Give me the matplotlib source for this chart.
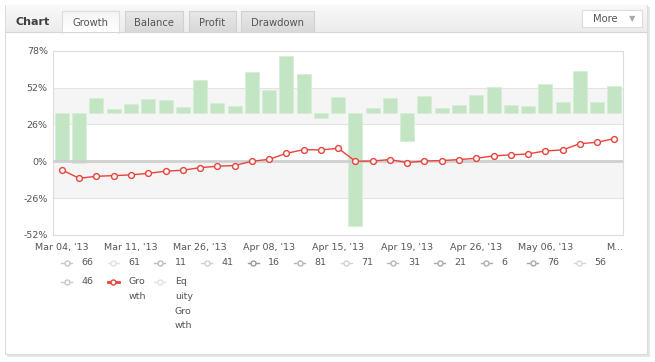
import numpy as np
import matplotlib
matplotlib.use("Agg")
import matplotlib.pyplot as plt
from matplotlib.patches import Rectangle
from matplotlib.lines import Line2D

# data (% growth per period, 33 periods)
growth = [-6.1, -12.0, -10.6, -10.1, -9.6, -8.5, -7.0, -6.3, -4.5, -3.5, -3.0,
          0.0, 1.4, 5.6, 8.2, 8.0, 9.2, 0.0, 0.2, 1.2, -0.9, 0.2, 0.5, 1.2,
          2.1, 3.8, 4.5, 5.2, 7.3, 8.0, 12.4, 13.4, 16.0]
bar_low = [0.0, -1.2, 34, 34, 34, 34, 34, 34, 34, 34, 34, 34, 34, 34, 34, 30.5,
           34, -46.0, 34, 34, 14.3, 34, 34, 34, 34, 34, 34, 34, 34, 34, 34, 34, 34]
bar_high = [34, 34, 44.4, 36.6, 40.4, 43.7, 43.4, 38.0, 57.5, 40.8, 39.2, 62.9,
            50.2, 74.2, 61.5, 34, 45.3, 34, 37.6, 44.4, 34, 45.8, 37.6, 39.7,
            46.5, 52.6, 39.4, 39.2, 54.7, 41.5, 63.4, 42.0, 53.3]
tick_pos = [0, 4, 8, 12, 16, 20, 24, 28, 32]
tick_labels = ["Mar 04, '13", "Mar 11, '13", "Mar 26, '13", "Apr 08, '13",
               "Apr 15, '13", "Apr 19, '13", "Apr 26, '13", "May 06, '13", "M..."]
y_ticks = [-52, -26, 0, 26, 52, 78]
legend_row1 = ["66", "61", "11", "41", "16", "81", "71", "31", "21", "6", "76", "56"]
legend_row2 = ["46", "Gro\nwth", "Eq\nuity\nGro\nwth"]
tabs = ["Growth", "Balance", "Profit", "Drawdown"]

W, H = 655, 362
fig = plt.figure(figsize=(W / 100, H / 100), dpi=100)
fig.patch.set_facecolor("white")
plt.rcParams['font.family'] = ['DejaVu Sans']
FS = 6.8
TXT = "#555555"

# background layer in pixel coords
bg = fig.add_axes([0, 0, 1, 1], zorder=0)
bg.set_xlim(0, W)
bg.set_ylim(H, 0)
bg.axis('off')

# panel shadow + panel
bg.add_patch(Rectangle((6.5, 6.5), 643, 350, facecolor="#e6e6e6", edgecolor="none"))
bg.add_patch(Rectangle((5, 5), 642, 349, facecolor="white", edgecolor="#dcdcdc", lw=0.8))

# header gradient
grad = np.linspace(0, 1, 50).reshape(-1, 1)
bg.imshow(grad, extent=(5.5, 646.5, 32, 5.5), cmap=matplotlib.colors.LinearSegmentedColormap.from_list(
    "hdr", ["#f9f9f9", "#ececec"]), aspect='auto', zorder=1)
bg.plot([5.5, 646.5], [32.3, 32.3], color="#d6d6d6", lw=0.8, zorder=2)
bg.text(16, 22, "Chart", fontsize=8, fontweight='bold', color="#404040", va='center', zorder=3)

tab_x = [(62, 119), (124.7, 182.7), (188.7, 236), (241, 314)]
for i, (name, (x0, x1)) in enumerate(zip(tabs, tab_x)):
    if i == 0:
        cm = matplotlib.colors.LinearSegmentedColormap.from_list("act", ["#f4f4f4", "#ffffff"])
        ec = "#dddddd"
    else:
        cm = matplotlib.colors.LinearSegmentedColormap.from_list("ina", ["#e8e8e8", "#d9d9d9"])
        ec = "#d0d0d0"
    yb = 32.5 if i == 0 else 32
    bg.imshow(grad, extent=(x0, x1, yb, 11), cmap=cm, aspect='auto', zorder=3)
    bg.plot([x0, x0, x1, x1], [yb, 11, 11, yb], color=ec, lw=0.8, zorder=4)
    bg.text((x0 + x1) / 2, 22.5, name, fontsize=7.2, color=TXT, ha='center', va='center', zorder=5)

# More button
bg.add_patch(Rectangle((581.7, 10), 60.6, 16.7, facecolor="white", edgecolor="#dcdcdc", lw=0.8, zorder=3))
bg.text(605, 18.5, "More", fontsize=7.2, color=TXT, ha='center', va='center', zorder=4)
bg.text(632, 18.5, "\u25bc", fontsize=6, color="#aaaaaa", ha='center', va='center', zorder=4)

# chart axes
L, R, T, B = 53.3, 623, 50.7, 235
ax = fig.add_axes([L / W, 1 - B / H, (R - L) / W, (B - T) / H], zorder=1)
ax.set_facecolor("none")
x = np.arange(len(growth))
ax.set_xlim(-0.5, len(growth) - 0.5)
ax.set_ylim(-52, 78)

ax.axhspan(26, 52, color="#f5f5f5", zorder=0, lw=0)
ax.axhspan(-26, 0, color="#f5f5f5", zorder=0, lw=0)
for yv in y_ticks:
    if yv != 0:
        ax.axhline(yv, color="#e3e3e3", lw=0.8, zorder=1)

heights = np.array(bar_high) - np.array(bar_low)
ax.bar(x, heights, bottom=bar_low, width=0.81, color="#c3e5c3", edgecolor="#d6eed6",
       lw=0.6, zorder=2)
ax.axhline(0, color="#cfcfcf", lw=2, zorder=3)
ax.plot(x, growth, color="#e8433b", lw=1, marker='o', markersize=4.2,
        markerfacecolor="white", markeredgecolor="#e8433b", markeredgewidth=1, zorder=4)

ax.set_yticks(y_ticks)
ax.set_yticklabels([f"{v}%" for v in y_ticks])
ax.set_xticks(tick_pos)
ax.set_xticklabels(tick_labels)
ax.tick_params(length=0, labelsize=FS, labelcolor=TXT)
ax.tick_params(axis='x', pad=6)
ax.tick_params(axis='y', pad=4)
for s in ax.spines.values():
    s.set_color("#dddddd")
    s.set_linewidth(0.8)

# legend (drawn by hand, HTML-like layout)
row1_cols = ["#c8c8c8", "#e2e2e2", "#bdbdbd", "#d0d0d0", "#9a9a9a", "#b8b8b8",
             "#d2d2d2", "#b8b8b8", "#aaaaaa", "#b0b0b0", "#a8a8a8", "#d8d8d8"]
row2_cols = ["#c8c8c8", "#e8433b", "#e2e2e2"]
step = 46.6
for row, labels, cols, ypix in [(0, legend_row1, row1_cols, 263), (1, legend_row2, row2_cols, 282.3)]:
    for j, (lab, c) in enumerate(zip(labels, cols)):
        cx = 66.7 + j * step
        bg.add_line(Line2D([cx - 5.5, cx + 5.5], [ypix, ypix], color=c,
                           lw=2 if c == "#e8433b" else 1, zorder=3))
        bg.add_line(Line2D([cx], [ypix], marker='o', markersize=3.6, markerfacecolor="white",
                           markeredgecolor=c, markeredgewidth=1, zorder=4))
        bg.text(cx + 15, ypix - 4.8, lab, fontsize=FS, color=TXT, va='top',
                linespacing=1.8, zorder=4)

fig.savefig("out.png", dpi=100)
